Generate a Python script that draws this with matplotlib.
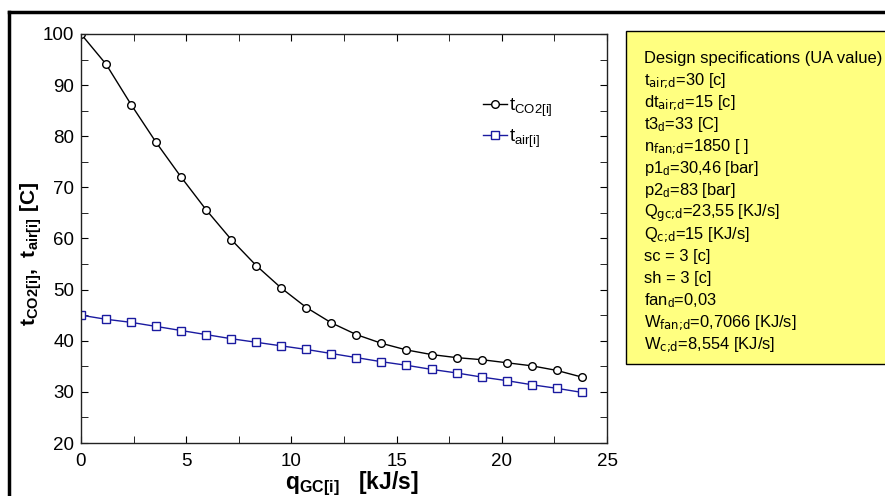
import matplotlib
matplotlib.use("Agg")
import matplotlib.pyplot as plt
from matplotlib.patches import Rectangle
from matplotlib.lines import Line2D
from matplotlib.ticker import MultipleLocator

plt.rcParams['font.family'] = ['Liberation Sans', 'DejaVu Sans']
plt.rcParams['mathtext.default'] = 'regular'

# data
q_gc = [0.0, 1.19, 2.38, 3.57, 4.76, 5.95, 7.14, 8.33, 9.52, 10.71, 11.9,
        13.09, 14.28, 15.47, 16.66, 17.85, 19.04, 20.23, 21.42, 22.61, 23.8]
t_co2 = [100.0, 94.1, 86.2, 78.8, 72.0, 65.6, 59.8, 54.7, 50.3, 46.5, 43.5,
         41.2, 39.5, 38.2, 37.3, 36.7, 36.3, 35.7, 35.1, 34.2, 32.9]
t_air = [45.0, 44.2, 43.6, 42.8, 42.0, 41.2, 40.4, 39.7, 39.0, 38.3, 37.5,
         36.7, 35.9, 35.2, 34.4, 33.7, 32.9, 32.2, 31.4, 30.7, 29.9]

spec_lines = [
    "Design specifications (UA value)",
    r"$t_{\text{air;d}}$=30 [c]",
    r"$dt_{\text{air;d}}$=15 [c]",
    r"$t3_{d}$=33 [C]",
    r"$n_{\text{fan;d}}$=1850 [ ]",
    r"$p1_{d}$=30,46 [bar]",
    r"$p2_{d}$=83 [bar]",
    r"$Q_{\text{gc;d}}$=23,55 [KJ/s]",
    r"$Q_{\text{c;d}}$=15 [KJ/s]",
    "sc = 3 [c]",
    "sh = 3 [c]",
    r"$fan_{d}$=0,03",
    r"$W_{\text{fan;d}}$=0,7066 [KJ/s]",
    r"$W_{\text{c;d}}$=8,554 [KJ/s]",
]

fig = plt.figure(figsize=(8.85, 4.96), dpi=100)
ax = fig.add_axes([81/885, 1-443/496, 526/885, 409/496])

ax.plot(q_gc, t_co2, color='black', lw=1.0, marker='o', ms=5.5,
        mfc='white', mec='black', mew=1.0, label=r'$t_{CO2[i]}$')
ax.plot(q_gc, t_air, color='#1a1aa0', lw=1.0, marker='s', ms=6,
        mfc='white', mec='#1a1aa0', mew=1.0, label=r'$t_{air[i]}$')

ax.set_xlim(0, 25)
ax.set_ylim(20, 100)
ax.xaxis.set_major_locator(MultipleLocator(5))
ax.xaxis.set_minor_locator(MultipleLocator(2.5))
ax.yaxis.set_major_locator(MultipleLocator(10))
ax.yaxis.set_minor_locator(MultipleLocator(5))
ax.tick_params(which='both', direction='in', top=True, right=True,
               labelsize=13.5, length=5)
ax.tick_params(axis='x', pad=7)
ax.tick_params(axis='y', pad=5)
for s in ax.spines.values():
    s.set_linewidth(1.0)
    s.set_color('#222222')

ax.set_xlabel(r'$q_{GC[i]}$   [kJ/s]', fontsize=16.5, fontweight='bold')
ax.xaxis.set_label_coords(0.515, -0.064)
ax.set_ylabel(r'$t_{CO2[i]}$,  $t_{air[i]}$ [C]', fontsize=15, fontweight='bold')
ax.yaxis.set_label_coords(-0.07, 0.462)

ax.legend(loc='upper left', bbox_to_anchor=(0.75, 0.865), frameon=False,
          fontsize=13.5, handlelength=1.3, handletextpad=0.1, labelspacing=0.45,
          borderaxespad=0)

# outer frame (top and left edges)
fig.add_artist(Line2D([9/885, 1.0], [1-12/496, 1-12/496], color='black', lw=2.5))
fig.add_artist(Line2D([9/885, 9/885], [0, 1-12/496], color='black', lw=2.5))

# yellow specification box
fig.add_artist(Rectangle((626/885, 1-364/496), 0.32, 333/496,
                         facecolor='#ffff80', edgecolor='black', lw=1.0,
                         transform=fig.transFigure))
y0 = 59
for i, line in enumerate(spec_lines):
    fig.text(644/885, 1-(y0 + i*22.0)/496, line, fontsize=11.9, va='center', ha='left')

fig.savefig('out.png', dpi=100)
